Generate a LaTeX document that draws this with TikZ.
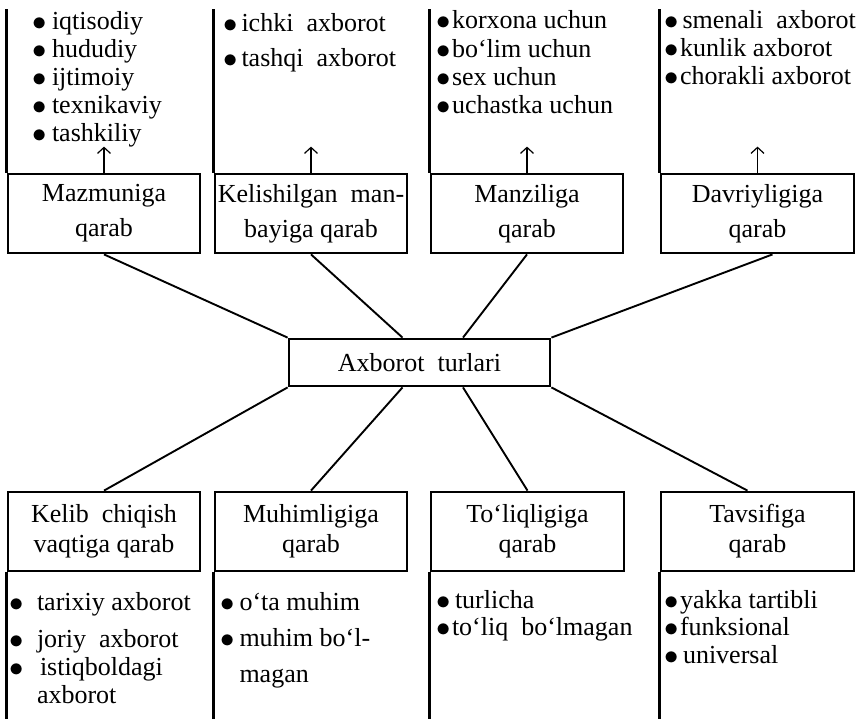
\documentclass[tikz,border=0pt]{standalone}
\usepackage{fontspec}
\setmainfont{Liberation Serif}
\usetikzlibrary{arrows.meta,positioning}
\newcommand{\bulmark}{\raisebox{-1pt}{\scalebox{1.15}{$\bullet$}}\hspace{-2pt}}
\newcommand{\bul}[1][5pt]{\bulmark\hspace{#1}}
\newcommand{\nobul}[1][5pt]{\phantom{\bulmark}\hspace{#1}}

\begin{document}
\begin{tikzpicture}[
    x=1pt,y=-1pt,
    box/.style={draw,line width=2.8pt,minimum width=192pt,
      minimum height=79pt,align=center,inner sep=0pt,
      font={\fontsize{26}{35}\selectfont}},
    lowbox/.style={box,font={\fontsize{26}{30}\selectfont}},
    lst/.style={anchor=north west,align=left,inner sep=0pt},
    frame/.style={line width=2.8pt},
    link/.style={line width=1.9pt},
    up/.style={-{Straight Barb[length=6pt,width=13pt]},line width=1.2pt}
  ]
    \useasboundingbox (0,0) rectangle (861,723);
    \coordinate (top) at (0,9);
    \coordinate (bot) at (0,719);

    \node[box,minimum width=261pt,minimum height=47pt] (axb) at (419.5,362.5)
      {Axborot~ turlari};

    % top row
    \node[box] (mazmun) at (104,213.5) {Mazmuniga\\qarab};
    \node[box] (manba) at (311,213.5) {Kelishilgan~ man-\\bayiga qarab};
    \node[box] (manzil) at (527,213.5) {Manziliga\\qarab};
    \node[box,minimum width=193pt] (davr) at (757.5,213.5) {Davriyligiga\\qarab};

    % bottom row
    \node[lowbox] (vaqt) at (104,531.5) {Kelib~ chiqish\\vaqtiga qarab};
    \node[lowbox] (muhim) at (311,531.5) {Muhimligiga\\qarab};
    \node[lowbox,minimum width=193pt] (toliq) at (527.5,531.5) {To‘liqligiga\\qarab};
    \node[lowbox,minimum width=193pt] (tavsif) at (757.5,531.5) {Tavsifiga\\qarab};

    \foreach \n in {mazmun,manba,manzil,davr} {
      \draw[frame] (\n.north west) -- (\n.north west |- top);
      \coordinate[above=26pt of \n.north] (\n-up);
      \draw[up] (\n.north) -- (\n-up);
    }
    \foreach \n in {vaqt,muhim,toliq,tavsif}
      \draw[frame] (\n.south west) -- (\n.south west |- bot);

    \draw[link] (mazmun.south) -- (axb.north west);
    \draw[link] (manba.south) -- ([xshift=-17pt]axb.north);
    \draw[link] (manzil.south) -- ([xshift=43.5pt]axb.north);
    \draw[link] ([xshift=15pt]davr.south) -- (axb.north east);
    \draw[link] (axb.south west) -- (vaqt.north);
    \draw[link] ([xshift=-17pt]axb.south) -- (muhim.north);
    \draw[link] ([xshift=43.5pt]axb.south) -- (toliq.north);
    \draw[link] (axb.south east) -- ([xshift=-10pt]tavsif.north);

    % lists
    \node[lst,font={\fontsize{26}{28}\selectfont}] (mazmun-l) at (32.5,11)
      {\bul[7pt]iqtisodiy\\\bul[7pt]hududiy\\\bul[7pt]ijtimoiy\\
       \bul[7pt]texnikaviy\\\bul[7pt]tashkiliy};
    \node[lst,font={\fontsize{26}{35}\selectfont}] (manba-l) at (223.5,13.7)
      {\bul[5.5pt]ichki~ axborot\\\bul[5.5pt]tashqi~ axborot};
    \node[lst,font={\fontsize{26}{28.3}\selectfont}] (manzil-l) at (436,10.5)
      {\bul[3.5pt]korxona uchun\\\bul[3.5pt]bo‘lim uchun\\\bul[3.5pt]sex uchun\\
       \bul[3.5pt]uchastka uchun};
    \node[lst,font={\fontsize{26}{28}\selectfont}] (davr-l) at (664,10.5)
      {\bul[6pt]smenali~ axborot\\\bul[3.5pt]kunlik axborot\\\bul[3.5pt]chorakli axborot};

    \node[lst,font={\fontsize{26}{28}\selectfont}] (vaqt-l) at (9.5,592)
      {\bul[15pt]tarixiy axborot\\[9pt]\bul[15pt]joriy~ axborot\\
       \bul[18pt]istiqboldagi\\\nobul[15pt]axborot};
    \node[lst,font={\fontsize{26}{36}\selectfont}] (muhim-l) at (220.5,592)
      {\bul[6.5pt]o‘ta muhim\\\bul[6.5pt]muhim bo‘l-\\\nobul[6.5pt]magan};
    \node[lst,font={\fontsize{26}{27}\selectfont}] (toliq-l) at (436,590)
      {\bul[6.5pt]turlicha\\\bul[3.5pt]to‘liq~ bo‘lmagan};
    \node[lst,font={\fontsize{26}{27.5}\selectfont}] (tavsif-l) at (664,590)
      {\bul[3.5pt]yakka tartibli\\\bul[3.5pt]funksional\\\bul[6.5pt]universal};
  \end{tikzpicture}
\end{document}
